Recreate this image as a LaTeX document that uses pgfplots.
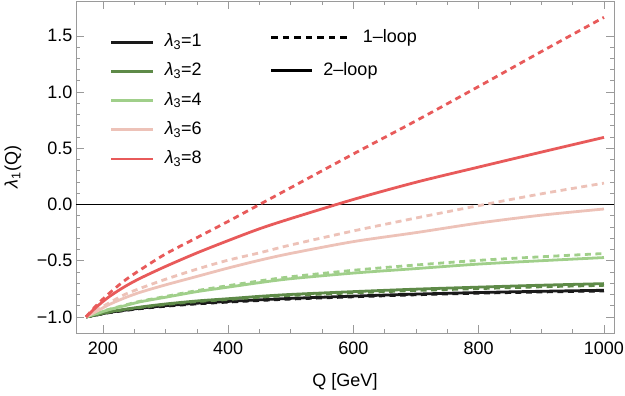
\documentclass[border=0pt]{standalone}
\usepackage{pgfplots}
\pgfplotsset{compat=1.18}
\usepackage{fontspec}
\setmainfont{Liberation Sans}
\usetikzlibrary{calc}
\definecolor{cA}{HTML}{1A1A1A}
\definecolor{cB}{HTML}{5E8A48}
\definecolor{cC}{HTML}{A0CF8A}
\definecolor{cD}{HTML}{EDC2B8}
\definecolor{cE}{HTML}{E85A5A}
\definecolor{frame}{HTML}{9A9A9A}
\pgfplotsset{
  solidl/.style={line width=2.8bp, smooth},
  dashl/.style={line width=2.8bp, smooth, dash pattern=on 6bp off 4.5bp},
  base/.style={
    scale only axis, width=538bp, height=332bp,
    xmin=157, xmax=1016, ymin=-1.143, ymax=1.81,
  },
}
\begin{document}
\begin{tikzpicture}[font=\fontsize{18bp}{21bp}\selectfont]
\begin{axis}[base, name=main,
  /pgf/number format/assume math mode=true,
  xtick={200,400,600,800,1000}, xticklabels={200,400,600,800,1000},
  ytick={-1,-0.5,0,0.5,1,1.5},
  yticklabels={−1.0,−0.5,0.0,0.5,1.0,1.5},
  minor x tick num=3, minor y tick num=4,
  tick align=inside,
  major tick length=8bp, minor tick length=4bp,
  axis line style={frame, line width=0.8bp},
  every tick/.style={frame, line width=0.7bp},
  xticklabel style={yshift=-5bp},
  xlabel={Q [GeV]},
  xlabel style={at={(axis description cs:0.5,0)}, anchor=north, yshift=-37bp},
  ylabel={{\itshape λ}\textsubscript{1}(Q)},
  ylabel style={at={(axis description cs:-0.1171,0.5)}, anchor=center},
  legend image code/.code={\draw[#1] (0bp,0bp) -- (42bp,0bp);},
  legend style={at={(axis cs:211.3,1.52)}, anchor=north west, draw=none, fill=none,
    inner sep=0pt, outer sep=0pt, row sep=12.2bp, column sep=10bp,
    nodes={inner sep=0pt, text height=13bp, text depth=4bp}},
  legend cell align=left,
]
\addplot[black, line width=0.8bp, forget plot] coordinates {(157,0) (1016,0)};
% lambda3 = 1
\addplot[cA, dashl, forget plot] coordinates {(173,-1) (190,-0.983) (210,-0.962) (235,-0.943) (260,-0.926) (300,-0.905) (350,-0.884) (400,-0.868) (450,-0.854) (500,-0.841) (600,-0.821) (700,-0.803) (800,-0.789) (900,-0.778) (1000,-0.769)};
\addplot[cA, solidl, forget plot] coordinates {(173,-1) (190,-0.982) (210,-0.96) (235,-0.94) (260,-0.922) (300,-0.9) (350,-0.878) (400,-0.862) (450,-0.848) (500,-0.835) (600,-0.815) (700,-0.797) (800,-0.783) (900,-0.772) (1000,-0.763)};
% lambda3 = 2
\addplot[cB, dashl, forget plot] coordinates {(173,-1) (190,-0.981) (210,-0.957) (235,-0.935) (260,-0.916) (300,-0.89) (350,-0.864) (400,-0.845) (450,-0.825) (500,-0.809) (600,-0.786) (700,-0.765) (800,-0.748) (900,-0.732) (1000,-0.719)};
\addplot[cB, solidl, forget plot] coordinates {(173,-1) (190,-0.98) (210,-0.955) (235,-0.932) (260,-0.912) (300,-0.885) (350,-0.858) (400,-0.838) (450,-0.817) (500,-0.8) (600,-0.775) (700,-0.753) (800,-0.735) (900,-0.718) (1000,-0.704)};
% lambda3 = 4
\addplot[cC, dashl, forget plot] coordinates {(173,-1) (190,-0.968) (210,-0.932) (235,-0.895) (260,-0.86) (300,-0.818) (350,-0.766) (400,-0.722) (450,-0.68) (500,-0.643) (600,-0.585) (700,-0.538) (800,-0.497) (900,-0.465) (1000,-0.436)};
\addplot[cC, solidl, forget plot] coordinates {(173,-1) (190,-0.97) (210,-0.935) (235,-0.9) (260,-0.865) (300,-0.825) (350,-0.775) (400,-0.735) (450,-0.695) (500,-0.66) (600,-0.61) (700,-0.57) (800,-0.53) (900,-0.5) (1000,-0.472)};
% lambda3 = 6
\addplot[cD, dashl, forget plot] coordinates {(173,-1) (190,-0.94) (210,-0.875) (235,-0.8) (260,-0.745) (300,-0.665) (350,-0.575) (400,-0.495) (450,-0.43) (500,-0.36) (600,-0.235) (700,-0.12) (800,-0.01) (900,0.095) (1000,0.19)};
\addplot[cD, solidl, forget plot] coordinates {(173,-1) (190,-0.95) (210,-0.89) (235,-0.83) (260,-0.78) (300,-0.715) (350,-0.64) (400,-0.565) (450,-0.496) (500,-0.435) (600,-0.33) (700,-0.25) (800,-0.165) (900,-0.095) (1000,-0.04)};
% lambda3 = 8
\addplot[cE, dashl, forget plot] coordinates {(173,-1) (190,-0.895) (210,-0.79) (235,-0.675) (260,-0.58) (300,-0.44) (350,-0.295) (400,-0.15) (450,0.0) (500,0.15) (600,0.45) (700,0.745) (800,1.05) (900,1.36) (1000,1.665)};
\addplot[cE, solidl, forget plot] coordinates {(173,-1) (190,-0.91) (210,-0.82) (235,-0.73) (260,-0.655) (300,-0.551) (350,-0.431) (400,-0.321) (450,-0.216) (500,-0.125) (600,0.045) (700,0.198) (800,0.333) (900,0.466) (1000,0.597)};
\addlegendimage{cA, line width=2.8bp}
\addlegendimage{cB, line width=2.8bp}
\addlegendimage{cC, line width=2.8bp}
\addlegendimage{cD, line width=2.8bp}
\addlegendimage{cE, line width=2.8bp}
\legend{{\itshape λ}\textsubscript{3}=1,{\itshape λ}\textsubscript{3}=2,{\itshape λ}\textsubscript{3}=4,{\itshape λ}\textsubscript{3}=6,{\itshape λ}\textsubscript{3}=8}
\end{axis}
\begin{axis}[base, hide axis,
  legend image code/.code={\draw[#1] (0bp,0bp) -- (77bp,0bp);},
  legend style={at={(axis cs:466.7,1.558)}, anchor=north west, draw=none, fill=none,
    inner sep=0pt, outer sep=0pt, column sep=13bp,
    nodes={inner sep=0pt, text height=13bp, text depth=4bp}},
]
\addlegendimage{black, line width=2.8bp, dash pattern=on 6.5bp off 5bp}
\addlegendentry{1–loop}
\end{axis}
\begin{axis}[base, hide axis,
  legend image code/.code={\draw[#1] (0bp,0bp) -- (41bp,0bp);},
  legend style={at={(axis cs:466.7,1.2645)}, anchor=north west, draw=none, fill=none,
    inner sep=0pt, outer sep=0pt, column sep=9.7bp,
    nodes={inner sep=0pt, text height=13bp, text depth=4bp}},
]
\addlegendimage{black, line width=2.8bp}
\addlegendentry{2–loop}
\end{axis}
\pgfresetboundingbox
\path[use as bounding box] ($(main.south west)+(-76bp,-63bp)$) rectangle ($(main.north east)+(11bp,1bp)$);
\end{tikzpicture}
\end{document}
